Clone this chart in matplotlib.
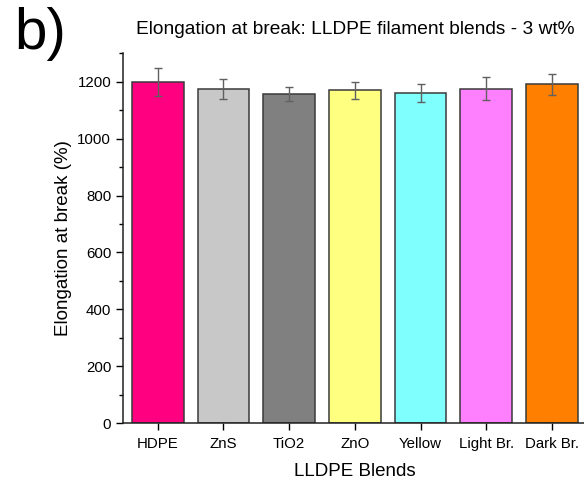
import matplotlib
matplotlib.use('Agg')
import matplotlib.pyplot as plt
from matplotlib.ticker import MultipleLocator

plt.rcParams['font.family'] = ['Liberation Sans', 'DejaVu Sans']

# elongation at break per blend (%), with standard deviation
blends = ['HDPE', 'ZnS', 'TiO2', 'ZnO', 'Yellow', 'Light Br.', 'Dark Br.']
elongation = [1200, 1175, 1157, 1170, 1161, 1176, 1191]
elong_err = [50, 35, 24, 30, 31, 40, 37]
bar_colors = ['#FF0080', '#C8C8C8', '#808080', '#FFFF80', '#80FFFF', '#FF80FF', '#FF8000']

fig = plt.figure(figsize=(5.84, 4.86), dpi=100)
ax = fig.add_axes([0.2106, 0.1296, 0.794, 0.7604])

x = range(len(blends))
ax.bar(x, elongation, width=0.79, color=bar_colors, edgecolor='#3a3a3a', linewidth=1.1,
       yerr=elong_err, error_kw=dict(ecolor='#606060', elinewidth=1.0, capsize=3, capthick=1.0))

ax.set_xlim(-0.53, 6.53)
ax.set_ylim(0, 1300)
ax.set_xticks(list(x))
ax.set_xticklabels(blends, fontsize=10.8)
ax.yaxis.set_major_locator(MultipleLocator(200))
ax.yaxis.set_minor_locator(MultipleLocator(100))
ax.tick_params(axis='y', which='major', direction='out', length=5, labelsize=10.8, width=1)
ax.tick_params(axis='y', which='minor', direction='out', length=3, width=1)
ax.tick_params(axis='x', which='major', direction='out', length=5, width=1, pad=5)

for side in ['top', 'right']:
    ax.spines[side].set_visible(False)
for side in ['left', 'bottom']:
    ax.spines[side].set_linewidth(1.1)
    ax.spines[side].set_color('#222222')

ax.set_xlabel('LLDPE Blends', fontsize=13.5, labelpad=9)
ax.set_ylabel('Elongation at break (%)', fontsize=13.5, labelpad=4)
ax.set_title('Elongation at break: LLDPE filament blends - 3 wt%', fontsize=13.8, pad=14)

fig.text(0.025, 0.9, 'b)', fontsize=42)

plt.savefig('out.png', dpi=100)
